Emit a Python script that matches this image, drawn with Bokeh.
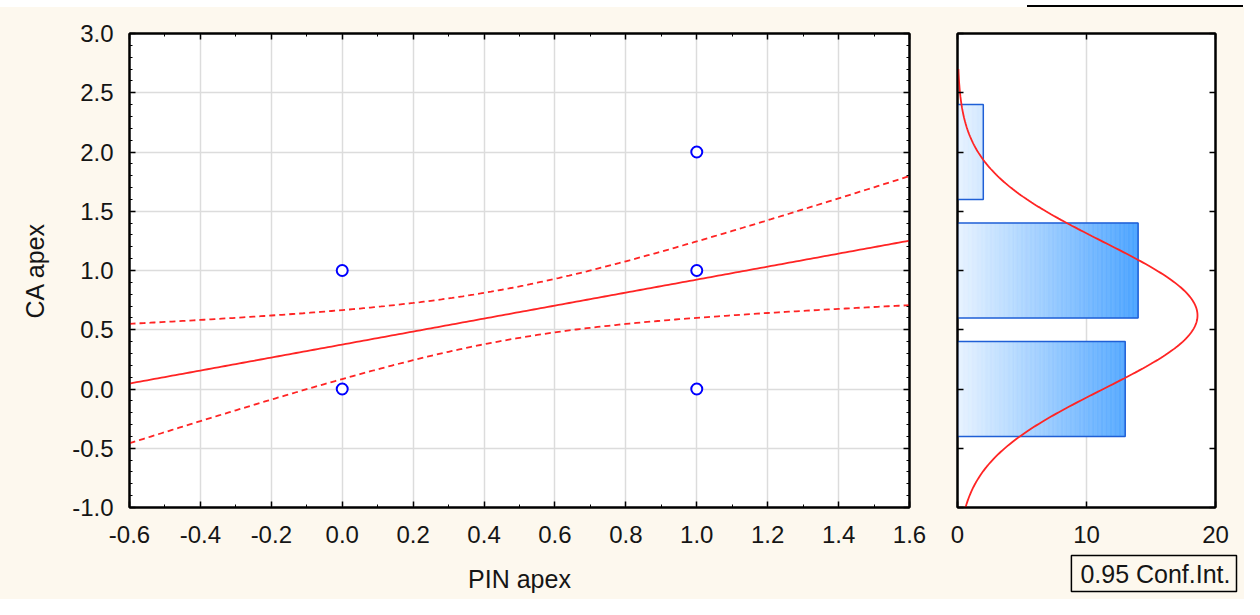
import numpy as np
from bokeh.plotting import figure
from bokeh.layouts import row, column
from bokeh.models import (LinearAxis, Range1d, FixedTicker, Title, Div,
                          PrintfTickFormatter, CustomLabelingPolicy)
from bokeh.embed import file_html
from bokeh.resources import INLINE

# ---------------- data ----------------
# observed (PIN apex, CA apex) combinations and how many cases share each
pin_apex = [0, 0, 1, 1, 1]
ca_apex = [0, 1, 0, 1, 2]
case_count = [10, 6, 3, 8, 2]
conf_label = "0.95 Conf.Int."
t_crit = 2.0518  # Student t, 0.975 quantile, df = 27

x_ticks = [-0.6, -0.4, -0.2, 0.0, 0.2, 0.4, 0.6, 0.8, 1.0, 1.2, 1.4, 1.6]
y_ticks = [-1.0, -0.5, 0.0, 0.5, 1.0, 1.5, 2.0, 2.5, 3.0]
hist_ticks = [0, 10, 20]
x_label = "PIN apex"
y_label = "CA apex"

# ---------------- derived statistics ----------------
xv = np.repeat(np.array(pin_apex, float), case_count)
yv = np.repeat(np.array(ca_apex, float), case_count)
n = len(xv)
xbar, ybar = xv.mean(), yv.mean()
sxx = ((xv - xbar) ** 2).sum()
slope = ((xv - xbar) * (yv - ybar)).sum() / sxx
icpt = ybar - slope * xbar
resid = yv - (icpt + slope * xv)
s = np.sqrt((resid ** 2).sum() / (n - 2))
xs = np.linspace(x_ticks[0], x_ticks[-1], 221)
fit = icpt + slope * xs
half = t_crit * s * np.sqrt(1.0 / n + (xs - xbar) ** 2 / sxx)

bins, counts = np.unique(yv, return_counts=True)
mu, sd = yv.mean(), yv.std(ddof=1)
ys = np.linspace(-1.0, 2.7, 300)
dens = n * 1.0 * np.exp(-0.5 * ((ys - mu) / sd) ** 2) / (sd * np.sqrt(2 * np.pi))

# ---------------- style ----------------
BG = "#FDF8EE"
RED = "#FF2424"
FONT = "Liberation Sans"
TXT = "#151515"

x_minor = [round(-0.6 + 0.1 * i, 2) for i in range(23)]
y_minor = [round(-1.0 + 0.1 * i, 2) for i in range(41)]


def style_axis(ax, ticker, labels=True):
    ax.ticker = ticker
    ax.axis_line_color = "black"
    ax.axis_line_width = 2
    ax.major_tick_line_color = "black"
    ax.major_tick_line_width = 1.5
    ax.minor_tick_line_color = "black"
    ax.minor_tick_line_width = 1
    ax.major_tick_in = 6
    ax.major_tick_out = 0
    ax.minor_tick_in = 3
    ax.minor_tick_out = 0
    ax.major_label_text_font = FONT
    ax.major_label_text_color = TXT
    ax.axis_label_text_font = FONT
    ax.axis_label_text_font_style = "normal"
    ax.axis_label_text_color = TXT
    ax.major_label_text_font_size = "24px"
    ax.axis_label_text_font_size = "25px"
    if not labels:
        ax.major_label_text_font_size = "2px"
        ax.major_label_standoff = 0
        ax.major_label_policy = CustomLabelingPolicy(code="return [];")


FIG_H = 592

# ---------------- main scatter ----------------
p1 = figure(width=933, height=FIG_H, x_range=Range1d(-0.6, 1.6), y_range=Range1d(-1, 3),
            min_border_left=129, min_border_right=24, min_border_top=26, min_border_bottom=91,
            output_backend="svg", toolbar_location=None,
            border_fill_color=BG, background_fill_color="white",
            outline_line_color="black", outline_line_width=2)

xt = FixedTicker(ticks=x_ticks, minor_ticks=x_minor)
yt = FixedTicker(ticks=y_ticks, minor_ticks=y_minor)
style_axis(p1.xaxis[0], xt)
style_axis(p1.yaxis[0], yt)
fmt = PrintfTickFormatter(format="%.1f")
p1.xaxis[0].formatter = fmt
p1.yaxis[0].formatter = fmt
p1.xaxis[0].axis_label = x_label
p1.yaxis[0].axis_label = y_label
p1.xaxis[0].major_label_standoff = 18
p1.yaxis[0].major_label_standoff = 16
p1.xaxis[0].axis_label_standoff = 19
p1.yaxis[0].axis_label_standoff = 20

top1 = LinearAxis()
right1 = LinearAxis()
style_axis(top1, xt, labels=False)
style_axis(right1, yt, labels=False)
p1.add_layout(top1, "above")
p1.add_layout(right1, "right")

p1.xgrid.ticker = FixedTicker(ticks=x_ticks)
p1.ygrid.ticker = FixedTicker(ticks=y_ticks)
for g in (p1.xgrid, p1.ygrid):
    g.grid_line_color = "#DCDCDC"
    g.grid_line_width = 1.5

p1.line(xs, fit, line_color=RED, line_width=1.8)
p1.line(xs, fit + half, line_color=RED, line_width=1.8, line_dash="6 4")
p1.line(xs, fit - half, line_color=RED, line_width=1.8, line_dash="6 4")
p1.scatter(pin_apex, ca_apex, marker="circle", size=11, fill_color="white",
           line_color="#0000FF", line_width=2)

# ---------------- histogram ----------------
p2 = figure(width=311, height=FIG_H, x_range=Range1d(0, 20), y_range=Range1d(-1, 3),
            min_border_left=24, min_border_right=29, min_border_top=26, min_border_bottom=91,
            output_backend="svg", toolbar_location=None,
            border_fill_color=BG, background_fill_color="white",
            outline_line_color="black", outline_line_width=2)

ht = FixedTicker(ticks=hist_ticks, minor_ticks=[])
yt2 = FixedTicker(ticks=y_ticks, minor_ticks=[])
style_axis(p2.xaxis[0], ht)
style_axis(p2.yaxis[0], yt2, labels=False)
p2.xaxis[0].major_label_standoff = 18
top2 = LinearAxis()
right2 = LinearAxis()
style_axis(top2, ht, labels=False)
style_axis(right2, yt2, labels=False)
p2.add_layout(top2, "above")
p2.add_layout(right2, "right")
p2.ygrid.visible = False
p2.xgrid.ticker = FixedTicker(ticks=hist_ticks)
p2.xgrid.grid_line_color = "#DCDCDC"
p2.xgrid.grid_line_width = 1.5

c0 = np.array([232, 243, 255], float)
c1 = np.array([74, 163, 255], float)
span = counts.max()
L, R, T, B, C = [], [], [], [], []
step = 0.1
for b, c in zip(bins, counts):
    k = 0
    while k * step < c - 1e-9:
        lft = k * step
        rgt = min((k + 1) * step, c)
        f = min(((lft + rgt) / 2) / span, 1.0)
        col = c0 + (c1 - c0) * f
        L.append(lft); R.append(rgt); T.append(b + 0.4); B.append(b - 0.4)
        C.append("#%02x%02x%02x" % tuple(int(round(v)) for v in col))
        k += 1
p2.quad(left=L, right=R, top=T, bottom=B, fill_color=C, line_color=C, line_width=0.6)
p2.quad(left=[0] * len(bins), right=counts, top=bins + 0.4, bottom=bins - 0.4,
        fill_color=None, line_color="#1F5FD6", line_width=1.5)
p2.line(dens, ys, line_color=RED, line_width=1.8)

# confidence-interval note box, drawn in the bottom border panel
ci_box = Title(text=conf_label, align="right", offset=-21, standoff=16,
               text_font=FONT, text_font_size="25px", text_font_style="normal",
               text_color=TXT, border_line_color="black", border_line_width=1.5,
               background_fill_color=BG, padding=dict(left=9, right=6, top=4, bottom=4))
p2.add_layout(ci_box, "below")

# thin black bar above the chart (top right)
top_bar = Div(text="", width=216, height=2, margin=(5, 0, 0, 1027),
              styles={"background-color": "black"})

charts = row(p1, p2, spacing=0, styles={"background-color": BG})
layout = column(top_bar, charts, spacing=0)
open("out.html", "w").write(file_html(layout, INLINE))
